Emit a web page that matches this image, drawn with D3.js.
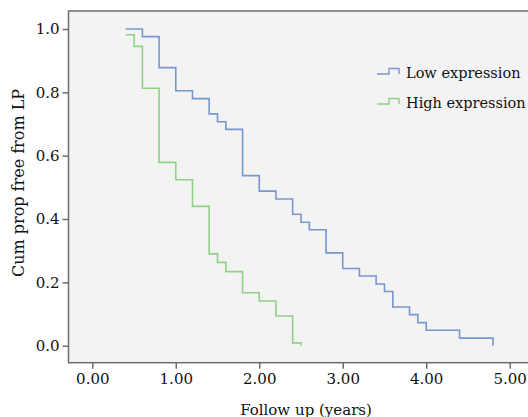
<!DOCTYPE html>
<html>
<head>
<meta charset="utf-8">
<script src="https://cdn.jsdelivr.net/npm/d3@7"></script>
<style>
  body { margin: 0; background: #fff; }
  svg text { font-family: "DejaVu Serif", serif; fill: #111; }
</style>
</head>
<body>
<svg width="528" height="417"></svg>
<script>
// Kaplan-Meier steps
var lowTimes  = [0.4, 0.6, 0.8, 1.0, 1.2, 1.4, 1.5, 1.6, 1.8, 2.0, 2.2, 2.4, 2.5, 2.6, 2.8, 3.0, 3.2, 3.4, 3.5, 3.6, 3.8, 3.9, 4.0, 4.4, 4.8];
var lowSurv   = [1.0, 0.976, 0.878, 0.805, 0.780, 0.732, 0.707, 0.683, 0.537, 0.488, 0.463, 0.415, 0.390, 0.366, 0.293, 0.244, 0.220, 0.195, 0.171, 0.122, 0.098, 0.073, 0.049, 0.024, 0.0];
var highTimes = [0.4, 0.5, 0.6, 0.8, 1.0, 1.2, 1.4, 1.5, 1.6, 1.8, 2.0, 2.2, 2.4, 2.5];
var highSurv  = [0.982, 0.945, 0.813, 0.579, 0.524, 0.440, 0.290, 0.263, 0.234, 0.167, 0.141, 0.094, 0.009, 0.0];

var groups = ["Low expression", "High expression"];
var colors = ["#7896cf", "#8fd185"];
var xTicks = [0, 1, 2, 3, 4, 5];
var yTicks = [0, 0.2, 0.4, 0.6, 0.8, 1.0];

var svg = d3.select("svg");

var frame = { left: 68.5, top: 11, right: 543, bottom: 362.7 };

var x = d3.scaleLinear().domain([0, 5]).range([92.3, 509.7]);
var y = d3.scaleLinear().domain([0, 1]).range([345.7, 29]);

svg.append("rect")
    .attr("x", frame.left).attr("y", frame.top)
    .attr("width", frame.right - frame.left)
    .attr("height", frame.bottom - frame.top)
    .attr("fill", "#f3f3f3")
    .attr("stroke", "#6e6e6e")
    .attr("stroke-width", 1.5);

var yAxis = svg.append("g")
    .attr("transform", "translate(" + frame.left + ",0)")
    .call(d3.axisLeft(y).tickValues(yTicks).tickFormat(d3.format(".1f")).tickSize(6).tickPadding(3));

var xAxis = svg.append("g")
    .attr("transform", "translate(0," + frame.bottom + ")")
    .call(d3.axisBottom(x).tickValues(xTicks).tickFormat(d3.format(".2f")).tickSize(6).tickPadding(5));

[yAxis, xAxis].forEach(function(a) {
  a.select(".domain").remove();
  a.selectAll(".tick line").attr("stroke", "#6e6e6e").attr("stroke-width", 1.5);
  a.selectAll(".tick text").style("font-size", "15px").attr("fill", "#111");
});

var line = d3.line()
    .x(function(d) { return x(d[0]); })
    .y(function(d) { return y(d[1]); })
    .curve(d3.curveStepAfter);

var series = [d3.zip(lowTimes, lowSurv), d3.zip(highTimes, highSurv)];

svg.selectAll(".km")
  .data(series)
  .enter().append("path")
    .attr("class", "km")
    .attr("d", line)
    .attr("fill", "none")
    .attr("stroke", function(d, i) { return colors[i]; })
    .attr("stroke-width", 1.6);

// legend
var legend = svg.selectAll(".legend")
  .data(groups)
  .enter().append("g")
    .attr("class", "legend")
    .attr("transform", function(d, i) { return "translate(377," + (74 + i * 30) + ")"; });

legend.append("path")
    .attr("d", "M0,0 H12 V-5.5 H22 V0")
    .attr("fill", "none")
    .attr("stroke", function(d, i) { return colors[i]; })
    .attr("stroke-width", 1.4);

legend.append("text")
    .attr("x", 29).attr("y", 3.5)
    .style("font-size", "14.5px")
    .text(function(d) { return d; });

// axis titles
svg.append("text")
    .attr("transform", "translate(24,183) rotate(-90)")
    .attr("text-anchor", "middle")
    .style("font-size", "16px")
    .text("Cum prop free from LP");

svg.append("text")
    .attr("x", 306).attr("y", 415)
    .attr("text-anchor", "middle")
    .style("font-size", "15px")
    .text("Follow up (years)");
</script>
</body>
</html>
